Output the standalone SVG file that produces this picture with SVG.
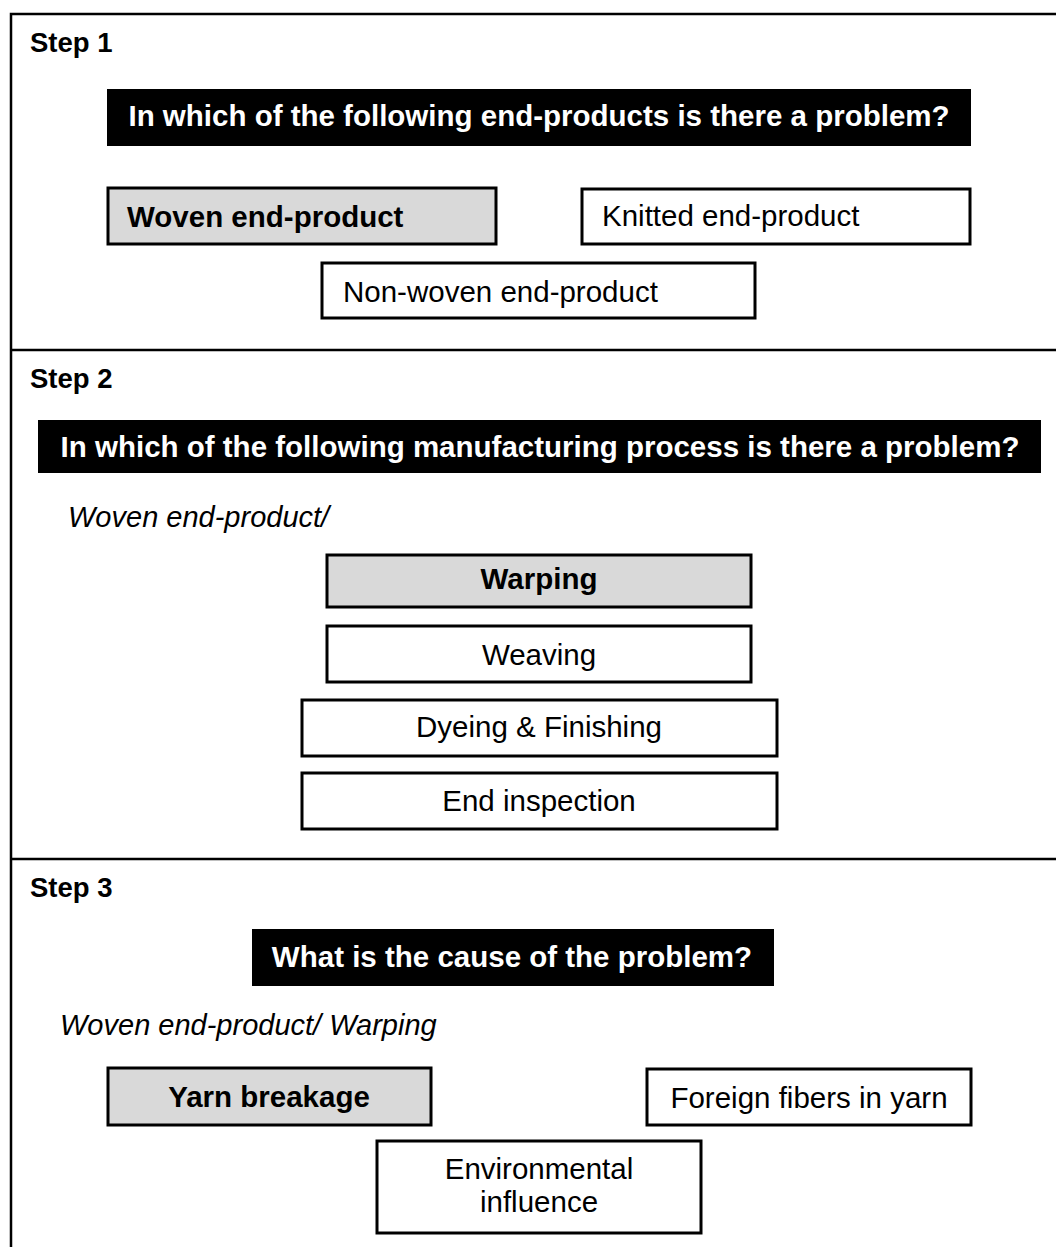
<svg xmlns="http://www.w3.org/2000/svg" width="1056" height="1247" viewBox="0 0 1056 1247">
<style>
text{font-family:"Liberation Sans",Arial,sans-serif;fill:#000}
.step{font-size:27.5px;font-weight:bold}
.hdr rect{fill:#000}
.hdr text{fill:#fff;font-size:29.5px;font-weight:bold;text-anchor:middle}
.box rect{fill:#fff;stroke:#000;stroke-width:3}
.box.sel rect{fill:#d9d9d9}
.box text{font-size:29.5px;text-anchor:middle}
.box text.l{text-anchor:start}
.box.sel text{font-weight:bold}
.it{font-size:29px;font-style:italic}
.frame{fill:none;stroke:#000;stroke-width:2.5}
</style>
<g id="frame">
<path class="frame" d="M1056,14 H11 V1247"/>
<line class="frame" x1="11" y1="350" x2="1056" y2="350"/>
<line class="frame" x1="11" y1="859" x2="1056" y2="859"/>
</g>
<text class="step" x="30" y="52">Step 1</text>
<text class="step" x="30" y="388">Step 2</text>
<text class="step" x="30" y="897">Step 3</text>
<g id="q1" class="hdr"><rect x="107" y="89" width="864" height="57"/><text x="539" y="126">In which of the following end-products is there a problem?</text></g>
<g id="woven" class="box sel"><rect x="108" y="188" width="388" height="56"/><text class="l" x="127" y="227">Woven end-product</text></g>
<g id="knitted" class="box"><rect x="582" y="189" width="388" height="55"/><text class="l" x="602" y="226">Knitted end-product</text></g>
<g id="nonwoven" class="box"><rect x="322" y="263" width="433" height="55"/><text class="l" x="343" y="302">Non-woven end-product</text></g>
<g id="q2" class="hdr"><rect x="38" y="420" width="1003" height="53"/><text x="540" y="457">In which of the following manufacturing process is there a problem?</text></g>
<text class="it" x="68" y="527" font-size="29.5">Woven end-product/</text>
<g id="warping" class="box sel"><rect x="327" y="555" width="424" height="52"/><text x="539" y="589">Warping</text></g>
<g id="weaving" class="box"><rect x="327" y="626" width="424" height="56"/><text x="539" y="665">Weaving</text></g>
<g id="dyeing" class="box"><rect x="302" y="700" width="475" height="56"/><text x="539" y="737">Dyeing &amp; Finishing</text></g>
<g id="endinsp" class="box"><rect x="302" y="773" width="475" height="56"/><text x="539" y="811">End inspection</text></g>
<g id="q3" class="hdr"><rect x="252" y="929" width="522" height="57"/><text x="512" y="967">What is the cause of the problem?</text></g>
<text class="it" x="60" y="1035">Woven end-product/ Warping</text>
<g id="yarn" class="box sel"><rect x="108" y="1068" width="323" height="57"/><text x="269" y="1107">Yarn breakage</text></g>
<g id="foreign" class="box"><rect x="647" y="1069" width="324" height="56"/><text x="809" y="1108">Foreign fibers in yarn</text></g>
<g id="env" class="box"><rect x="377" y="1141" width="324" height="92"/><text x="539" y="1179">Environmental</text><text x="539" y="1212">influence</text></g>
</svg>
